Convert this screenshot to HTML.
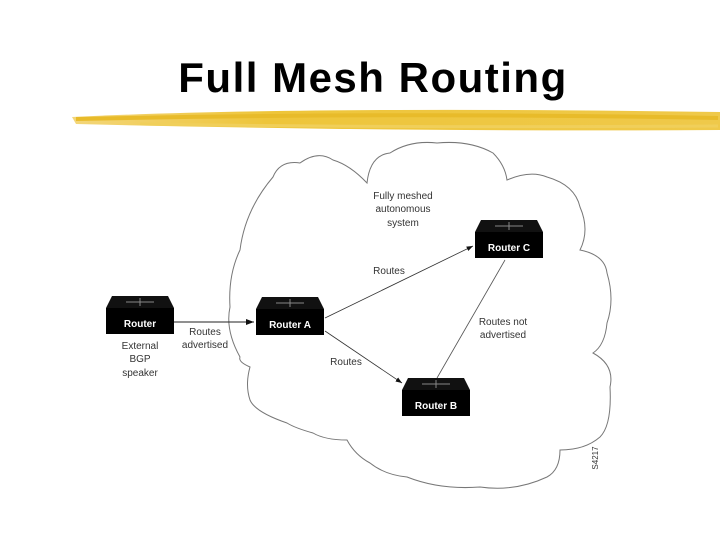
<!DOCTYPE html>
<html><head><style>
body{margin:0;background:#fff;width:720px;height:540px;overflow:hidden;position:relative;font-family:"Liberation Sans",sans-serif}
.t{position:absolute;left:0;width:746px;top:54px;text-align:center;font-weight:bold;font-size:42px;color:#000;letter-spacing:1.5px}
</style></head><body>
<div class="t">Full Mesh Routing</div>
<svg width="720" height="540" style="position:absolute;left:0;top:0">
<defs>
<linearGradient id="y" x1="0" x2="1"><stop offset="0" stop-color="#f3d67a"/><stop offset="0.3" stop-color="#eec53a"/><stop offset="1" stop-color="#efc94a"/></linearGradient>
<marker id="a" markerWidth="8" markerHeight="6" refX="8" refY="3" orient="auto"><path d="M0,0 L8,3 L0,6 z" fill="#111"/></marker>
<g id="r"><path d="M0,12 L6,0 L62,0 L68,12 Z" fill="#111"/><rect x="0" y="12" width="68" height="26" fill="#000"/><path d="M20,6 H48 M34,2 V10" stroke="#888" stroke-width="1"/></g>
</defs>
<path d="M72,117 Q300,106 720,112 L720,130 Q400,132 76,124 Z" fill="url(#y)"/>
<path d="M76,119 Q400,112 718,118" stroke="#e8bb2a" stroke-width="4" fill="none"/>
<path d="M140,124 Q400,128 718,126" stroke="#f0cf5a" stroke-width="3" fill="none"/>
<path d="M273,177 Q280,160 300,163 Q318,150 333,160 Q350,165 367,183 Q370,155 390,153 Q410,140 437,143 Q470,140 493,153 Q505,165 507,180 Q530,170 547,177 Q575,185 580,207 Q590,230 580,250 Q605,255 607,273 Q615,300 607,323 Q605,345 593,353 Q615,365 610,387 Q612,425 600,437 Q585,450 560,450 Q560,470 547,477 Q515,492 480,487 Q440,490 407,477 Q385,475 370,463 Q355,455 347,440 Q325,440 313,433 Q295,428 287,423 Q255,412 250,400 Q245,385 250,367 Q238,362 240,357 Q225,330 230,307 Q228,275 240,250 Q245,210 273,177 Z" fill="none" stroke="#777" stroke-width="1"/>
<use href="#r" x="106" y="296"/>
<use href="#r" x="256" y="297"/>
<use href="#r" x="475" y="220"/>
<use href="#r" x="402" y="378"/>
<line x1="174" y1="322" x2="254" y2="322" stroke="#222" marker-end="url(#a)"/>
<line x1="325" y1="318" x2="473" y2="246" stroke="#333" stroke-width="0.8" marker-end="url(#a)"/>
<line x1="325" y1="331" x2="402" y2="383" stroke="#333" stroke-width="0.8" marker-end="url(#a)"/>
<line x1="505" y1="260" x2="437" y2="378" stroke="#555" stroke-width="0.8"/>
<g font-family="Liberation Sans" font-size="10" fill="#fff" font-weight="bold" text-anchor="middle">
<text x="140" y="327">Router</text><text x="290" y="328">Router A</text><text x="509" y="251">Router C</text><text x="436" y="409">Router B</text>
</g>
<g font-family="Liberation Sans" font-size="10" fill="#333" text-anchor="middle">
<text x="140" y="349">External</text><text x="140" y="362">BGP</text><text x="140" y="376">speaker</text>
<text x="205" y="335">Routes</text><text x="205" y="348">advertised</text>
<text x="403" y="199">Fully meshed</text><text x="403" y="212">autonomous</text><text x="403" y="226">system</text>
<text x="389" y="274">Routes</text><text x="346" y="365">Routes</text>
<text x="503" y="325">Routes not</text><text x="503" y="338">advertised</text>
<text transform="translate(598,458) rotate(-90)" font-size="8">S4217</text>
</g>
</svg>
</body></html>
